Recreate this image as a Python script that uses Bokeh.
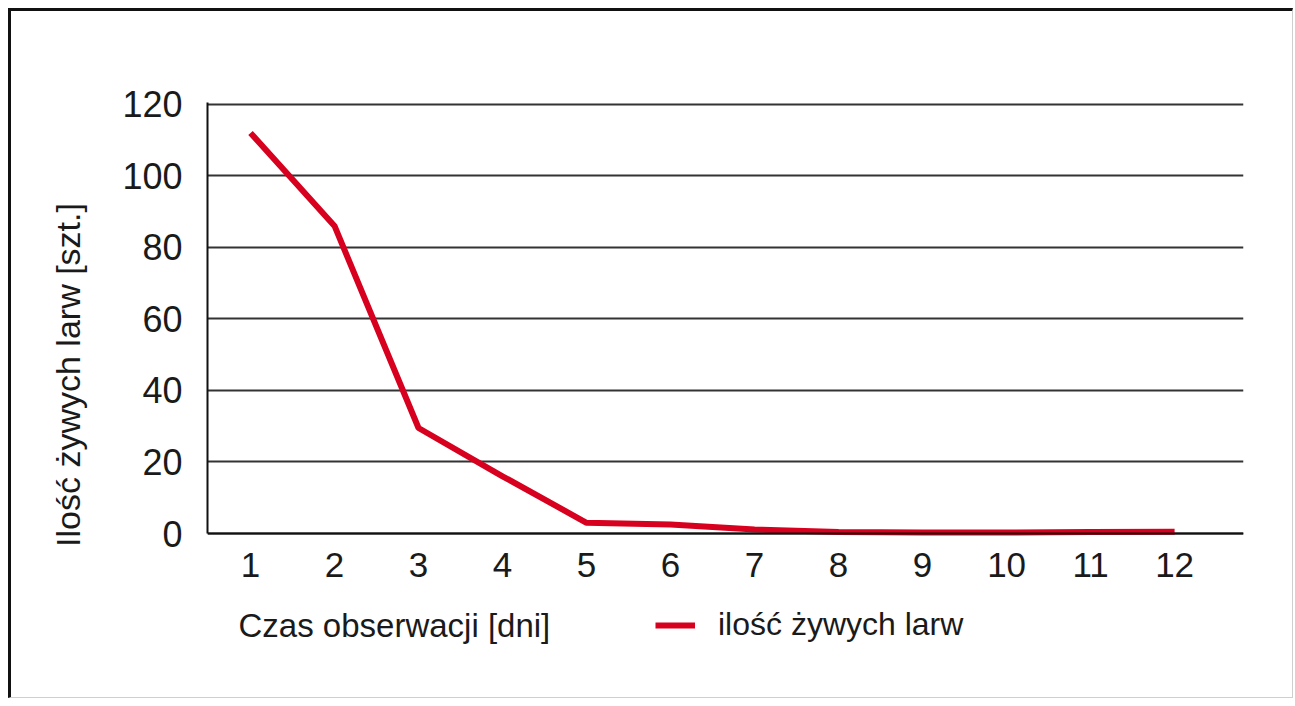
from bokeh.plotting import figure
from bokeh.models import Range1d, FixedTicker, Legend, LegendItem, Label
from bokeh.embed import file_html
from bokeh.resources import INLINE

# ---- data ----
days = [1, 2, 3, 4, 5, 6, 7, 8, 9, 10, 11, 12]
live_larvae = [112, 86, 29.5, 16, 3, 2.5, 1.1, 0.4, 0.3, 0.3, 0.4, 0.5]
x_ticks = [1, 2, 3, 4, 5, 6, 7, 8, 9, 10, 11, 12]
y_ticks = [0, 20, 40, 60, 80, 100, 120]
x_title = "Czas obserwacji [dni]"
y_title = "Ilość żywych larw [szt.]"
series_name = "ilość żywych larw"

FONT = "Liberation Sans"
RED = "#d7001e"
TXT = "#1a1a1a"

x_range = Range1d(0.488, 12.82)
# the frame reaches below the value axis so the legend row stays inside it
y_range = Range1d(-31.87, 120.5)

p = figure(
    frame_width=1036, frame_height=545,
    output_backend="svg", toolbar_location=None,
    x_range=x_range, y_range=y_range,
    min_border_left=196, min_border_right=49,
    min_border_top=91, min_border_bottom=50,
    styles={
        "margin-top": "8px",
        "margin-left": "8px",
        "border-top": "3px solid #111111",
        "border-left": "3px solid #111111",
        "border-right": "1px solid #cfcfcf",
        "border-bottom": "1px solid #cfcfcf",
    },
)
p.outline_line_color = None
p.background_fill_color = "white"
p.border_fill_color = "white"

r = p.line(days, live_larvae, line_color=RED, line_width=6)

# grid
p.xgrid.visible = False
p.ygrid.ticker = FixedTicker(ticks=y_ticks)
p.ygrid.grid_line_color = "#333333"
p.ygrid.grid_line_width = 2

# x axis drawn at value 0
xa = p.xaxis[0]
xa.fixed_location = 0
xa.ticker = FixedTicker(ticks=x_ticks)
xa.axis_line_color = "#111111"
xa.axis_line_width = 2
xa.major_tick_line_color = None
xa.minor_tick_line_color = None
xa.major_label_standoff = 13
xa.major_label_text_font = FONT
xa.major_label_text_font_size = "35px"
xa.major_label_text_color = TXT

# y axis
ya = p.yaxis[0]
ya.ticker = FixedTicker(ticks=y_ticks)
ya.bounds = (0, y_range.end)
ya.axis_line_color = "#111111"
ya.axis_line_width = 2
ya.major_tick_line_color = None
ya.minor_tick_line_color = None
ya.major_label_standoff = 19
ya.major_label_text_font = FONT
ya.major_label_text_font_size = "36px"
ya.major_label_text_color = TXT
ya.axis_label = y_title
ya.axis_label_standoff = 32
ya.axis_label_text_font = FONT
ya.axis_label_text_font_size = "34px"
ya.axis_label_text_font_style = "normal"
ya.axis_label_text_color = TXT

# x-axis title, left aligned under the tick labels
p.add_layout(Label(
    x=x_range.start, y=-25.7, x_offset=31,
    text=x_title, text_baseline="middle", text_align="left",
    text_font=FONT, text_font_size="33px", text_color=TXT,
))

legend = Legend(
    items=[LegendItem(label=series_name, renderers=[r])],
    location=(448, 4),
    padding=0, margin=0,
    glyph_width=40, glyph_height=20, label_standoff=23,
    label_text_font=FONT, label_text_font_size="32px", label_text_color=TXT,
    border_line_color=None, background_fill_alpha=0,
)
p.add_layout(legend)

open("out.html", "w").write(file_html(p, INLINE))
